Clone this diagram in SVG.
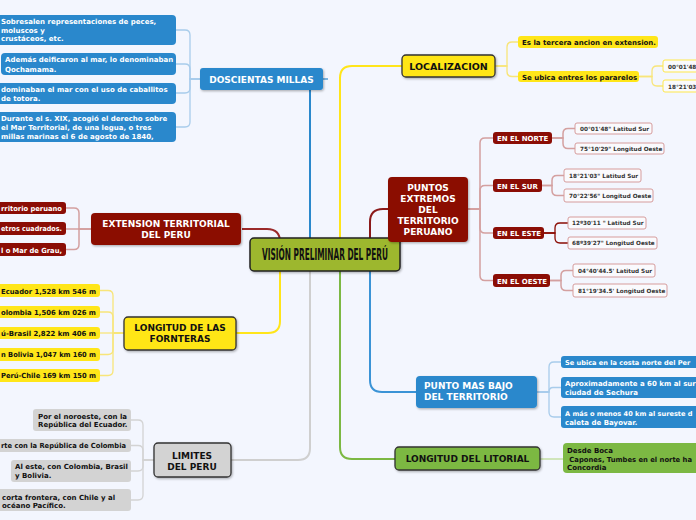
<svg xmlns="http://www.w3.org/2000/svg" width="696" height="520" viewBox="0 0 696 520">
<style>
.t{font-family:"DejaVu Sans",Verdana,sans-serif;font-weight:bold}
.h{font-size:9px}.c{font-size:7px}.g{font-size:5.7px}
.w{fill:#fff}.k{fill:#111}.d{fill:#333}
.m{text-anchor:middle}.e{text-anchor:end}
.blue{fill:#2A88CC}.red{fill:#8B0D05}.yel{fill:#FFE619}.gry{fill:#D3D3D3}.grn{fill:#7CB843}
.bd{stroke:#333;stroke-width:1.3}
.gc{fill:#FAFAFD;stroke:#D69C9C;stroke-width:1}
.gy{fill:#FAFAFD;stroke:#FFE84A;stroke-width:1}
#connectors path{fill:none}
.lb{stroke:#A8CCEB;stroke-width:1.3}.lr{stroke:#D4A0A0;stroke-width:1.5}.lr2{stroke:#8B0D05;stroke-width:1.3}
.ly{stroke:#F8E57A;stroke-width:1.3}.lg{stroke:#D3D3D3;stroke-width:1.3}.lgn{stroke:#C5DFA5;stroke-width:1.5}
</style>
<defs>
<filter id="sh" x="-10%" y="-10%" width="130%" height="140%"><feDropShadow dx="1" dy="1.2" stdDeviation="0.8" flood-color="#000" flood-opacity="0.3"/></filter>
</defs>
<rect width="696" height="520" fill="#F3F6FE"/>
<g id="connectors">
<path d="M310,238 V90" stroke="#2A88CC" stroke-width="2"/>
<path d="M323,79 H328" stroke="#2A88CC" stroke-width="1.2"/>
<path d="M340,238 V78 Q340,66 352,66 H402" stroke="#FFE51A" stroke-width="2"/>
<path d="M370,238 V222 Q370,209 383,209 H388" stroke="#8B1A1A" stroke-width="2"/>
<path d="M370,271 V380 Q370,392 382,392 H416" stroke="#3A93D6" stroke-width="2"/>
<path d="M340,271 V447 Q340,459 352,459 H395" stroke="#7CB843" stroke-width="2"/>
<path d="M310,271 V448 Q310,460 298,460 H231" stroke="#CFCFCF" stroke-width="2"/>
<path d="M280,271 V321 Q280,333 268,333 H236" stroke="#FFE51A" stroke-width="2"/>
<path d="M242,229 H267 Q280,229 280,242" stroke="#9B2A2A" stroke-width="2"/>
<path class="lb" d="M200,79 H190 V35 Q190,30 185,30 H176"/>
<path class="lb" d="M200,79 H190 V69 Q190,64 185,64 H176"/>
<path class="lb" d="M200,79 H190 V88 Q190,93 185,93 H176"/>
<path class="lb" d="M200,79 H190 V122 Q190,127 185,127 H176"/>
<path class="lr" d="M91,229 H79 V213 Q79,208 74,208 H66"/>
<path class="lr" d="M91,229 H66"/>
<path class="lr" d="M91,229 H79 V244.5 Q79,249.5 74,249.5 H66"/>
<path class="ly" d="M124,333 H113 V295.5 Q113,290.5 108,290.5 H100"/>
<path class="ly" d="M124,333 H113 V317 Q113,312 108,312 H100"/>
<path class="ly" d="M124,333 H100"/>
<path class="ly" d="M124,333 H113 V349.5 Q113,354.5 108,354.5 H100"/>
<path class="ly" d="M124,333 H113 V370.5 Q113,375.5 108,375.5 H100"/>
<path class="lg" d="M154,460 H143 V425 Q143,420 138,420 H131"/>
<path class="lg" d="M154,460 H143 V450.5 Q143,445.5 138,445.5 H131"/>
<path class="lg" d="M154,460 H143 V466 Q143,471 138,471 H131"/>
<path class="lg" d="M154,460 H143 V495 Q143,500 138,500 H131"/>
<path class="ly" d="M495,66 H507 V47 Q507,42 512,42 H518"/>
<path class="ly" d="M495,66 H507 V71.5 Q507,76.5 512,76.5 H518"/>
<path class="ly" d="M639,76.5 H652 V71 Q652,66 657,66 H663"/>
<path class="ly" d="M639,76.5 H652 V81 Q652,86 657,86 H663"/>
<path class="lr" d="M468,209 H480 V143 Q480,138 485,138 H493"/>
<path class="lr" d="M468,209 H480 V190.5 Q480,185.5 485,185.5 H493"/>
<path class="lr" d="M468,209 H480 V228 Q480,233 485,233 H493"/>
<path class="lr" d="M468,209 H480 V275.5 Q480,280.5 485,280.5 H493"/>
<path class="lr" d="M552,138 H563 V133.5 Q563,128.5 568,128.5 H575"/>
<path class="lr" d="M552,138 H563 V143.5 Q563,148.5 568,148.5 H575"/>
<path class="lr" d="M542,185.5 H552 V180.5 Q552,175.5 557,175.5 H564"/>
<path class="lr" d="M542,185.5 H552 V190.5 Q552,195.5 557,195.5 H564"/>
<path class="lr2" d="M544,233 H555 V228 Q555,223 560,223 H568"/>
<path class="lr2" d="M544,233 H555 V238 Q555,243 560,243 H568"/>
<path class="lr" d="M550,280.5 H561 V275.5 Q561,270.5 566,270.5 H573"/>
<path class="lr" d="M550,280.5 H561 V285.5 Q561,290.5 566,290.5 H573"/>
<path class="lb" d="M537,392 H549 V367 Q549,362 554,362 H561"/>
<path class="lb" d="M537,392 H549 Q549,387.5 553,387.5 H561"/>
<path class="lb" d="M537,392 H549 V412 Q549,417 554,417 H561"/>
<path class="lgn" d="M540,459 H563"/>
</g>

<g id="center">
<rect x="250" y="238" width="150" height="33" rx="4" fill="#9DB72F" stroke="#222" stroke-width="1.5" filter="url(#sh)"/>
<text x="325" y="260" font-family="'DejaVu Sans Condensed','Liberation Sans Narrow','DejaVu Sans',sans-serif" font-weight="bold" font-size="15" fill="#111" text-anchor="middle" textLength="126" lengthAdjust="spacingAndGlyphs">VISIÓN PRELIMINAR DEL PERÚ</text>
</g>

<g id="doscientas">
<rect x="200" y="68" width="123" height="22" rx="3" class="blue" filter="url(#sh)"/>
<text x="261.5" y="82.5" class="t h w m">DOSCIENTAS MILLAS</text>
</g>
<g id="dos-1"><rect x="-5" y="15" width="181" height="30" rx="4" class="blue"/>
<text class="t c w"><tspan x="1" y="24">Sobresalen representaciones de peces,</tspan><tspan x="1" y="32.5">moluscos y</tspan><tspan x="1" y="41">crustáceos, etc.</tspan></text></g>
<g id="dos-2"><rect x="1" y="53" width="175" height="22" rx="4" class="blue"/>
<text class="t c w"><tspan x="5" y="62">Además deificaron al mar, lo denominaban</tspan><tspan x="5" y="71.5">Qochamama.</tspan></text></g>
<g id="dos-3"><rect x="-5" y="83" width="181" height="21" rx="4" class="blue"/>
<text class="t c w"><tspan x="1" y="92">dominaban el mar con el uso de caballitos</tspan><tspan x="1" y="100.5">de totora.</tspan></text></g>
<g id="dos-4"><rect x="-5" y="112" width="181" height="30" rx="4" class="blue"/>
<text class="t c w"><tspan x="1" y="121">Durante el s. XIX, acogió el derecho sobre</tspan><tspan x="1" y="130">el Mar Territorial, de una legua, o tres</tspan><tspan x="1" y="138.5">millas marinas el 6 de agosto de 1840,</tspan></text></g>

<g id="extension">
<rect x="91" y="213" width="150" height="32" rx="4" class="red" filter="url(#sh)"/>
<text class="t h w m"><tspan x="166" y="227">EXTENSION TERRITORIAL</tspan><tspan x="166" y="237.5">DEL PERU</tspan></text>
</g>
<g id="ext-1"><rect x="-5" y="202" width="71" height="12" rx="3" class="red"/><text x="1" y="210.5" class="t c w" textLength="61" lengthAdjust="spacingAndGlyphs">rritorio peruano</text></g>
<g id="ext-2"><rect x="-5" y="222" width="71" height="13" rx="3" class="red"/><text x="1" y="231" class="t c w" textLength="61" lengthAdjust="spacingAndGlyphs">etros cuadrados.</text></g>
<g id="ext-3"><rect x="-5" y="243" width="71" height="13" rx="3" class="red"/><text x="1" y="252.5" class="t c w" textLength="61" lengthAdjust="spacingAndGlyphs">l o Mar de Grau,</text></g>

<g id="fronteras">
<rect x="124" y="317" width="112" height="33" rx="4" class="yel bd" filter="url(#sh)"/>
<text class="t h k m"><tspan x="180" y="331">LONGITUD DE LAS</tspan><tspan x="180" y="342">FORNTERAS</tspan></text>
</g>
<g id="fr-1"><rect x="-5" y="284" width="105" height="13" rx="3" class="yel"/><text x="1" y="294" class="t c k" textLength="95" lengthAdjust="spacingAndGlyphs">Ecuador 1,528 km 546 m</text></g>
<g id="fr-2"><rect x="-5" y="306" width="105" height="12" rx="3" class="yel"/><text x="1" y="315" class="t c k" textLength="95" lengthAdjust="spacingAndGlyphs">olombia 1,506 km 026 m</text></g>
<g id="fr-3"><rect x="-5" y="327" width="105" height="12" rx="3" class="yel"/><text x="1" y="336" class="t c k" textLength="95" lengthAdjust="spacingAndGlyphs">ú-Brasil 2,822 km 406 m</text></g>
<g id="fr-4"><rect x="-5" y="348" width="105" height="13" rx="3" class="yel"/><text x="1" y="357" class="t c k" textLength="95" lengthAdjust="spacingAndGlyphs">n Bolivia 1,047 km 160 m</text></g>
<g id="fr-5"><rect x="-5" y="369" width="105" height="13" rx="3" class="yel"/><text x="1" y="378" class="t c k" textLength="95" lengthAdjust="spacingAndGlyphs">Perú-Chile 169 km 150 m</text></g>

<g id="limites">
<rect x="154" y="443" width="77" height="34" rx="4" class="gry bd" filter="url(#sh)"/>
<text class="t h k m"><tspan x="192" y="458.5">LIMITES</tspan><tspan x="192" y="469.5">DEL PERU</tspan></text>
</g>
<g id="lim-1"><rect x="33" y="409" width="98" height="22" rx="3" class="gry"/>
<text class="t c k"><tspan x="38" y="418.5">Por el noroeste, con la</tspan><tspan x="38" y="427">República del Ecuador.</tspan></text></g>
<g id="lim-2"><rect x="-5" y="439" width="136" height="13" rx="3" class="gry"/><text x="1" y="448" class="t c k" textLength="125" lengthAdjust="spacingAndGlyphs">rte con la República de Colombia</text></g>
<g id="lim-3"><rect x="11" y="460" width="120" height="22" rx="3" class="gry"/>
<text class="t c k"><tspan x="15" y="469">Al este, con Colombia, Brasil</tspan><tspan x="15" y="477.5">y Bolivia.</tspan></text></g>
<g id="lim-4"><rect x="-5" y="489" width="136" height="22" rx="3" class="gry"/>
<text class="t c k"><tspan x="2" y="499.5">corta frontera, con Chile y al</tspan><tspan x="2" y="508">océano Pacífico.</tspan></text></g>

<g id="localizacion">
<rect x="402" y="55" width="93" height="22" rx="4" class="yel bd" filter="url(#sh)"/>
<text x="448.5" y="69.5" class="t k m" font-size="9.5">LOCALIZACION</text>
</g>
<g id="loc-1"><rect x="518" y="36" width="140" height="12" rx="3" class="yel"/><text x="522" y="45" class="t c k">Es la tercera ancion en extension.</text></g>
<g id="loc-2"><rect x="518" y="71" width="121" height="11" rx="3" class="yel"/><text x="522" y="79.5" class="t c k">Se ubica entres los pararelos</text></g>
<g id="loc-2a"><rect x="663" y="60" width="40" height="12" rx="2" class="gy"/><text x="668" y="68.5" class="t g d">00°01'48</text></g>
<g id="loc-2b"><rect x="663" y="80" width="40" height="12" rx="2" class="gy"/><text x="668" y="88.5" class="t g d">18°21'03</text></g>

<g id="puntos">
<rect x="388" y="177" width="80" height="65" rx="4" class="red" filter="url(#sh)"/>
<text class="t h w m"><tspan x="428" y="191">PUNTOS</tspan><tspan x="428" y="202">EXTREMOS</tspan><tspan x="428" y="213.3">DEL</tspan><tspan x="428" y="224">TERRITORIO</tspan><tspan x="428" y="235">PERUANO</tspan></text>
</g>
<g id="norte"><rect x="493" y="132" width="59" height="12" rx="3" class="red"/><text x="497" y="141" class="t c w">EN EL NORTE</text></g>
<g id="sur"><rect x="493" y="179" width="49" height="13" rx="3" class="red"/><text x="497" y="188.5" class="t c w">EN EL SUR</text></g>
<g id="este"><rect x="493" y="227" width="51" height="12" rx="3" class="red"/><text x="497" y="236" class="t c w">EN EL ESTE</text></g>
<g id="oeste"><rect x="493" y="274" width="57" height="13" rx="3" class="red"/><text x="497" y="283.5" class="t c w">EN EL OESTE</text></g>
<g id="n-1"><rect x="575" y="123" width="77" height="11" rx="2" class="gc"/><text x="580" y="130.7" class="t g d">00°01'48" Latitud Sur</text></g>
<g id="n-2"><rect x="575" y="143" width="89" height="11" rx="2" class="gc"/><text x="580" y="150.7" class="t g d">75°10'29" Longitud Oeste</text></g>
<g id="s-1"><rect x="564" y="169" width="77" height="13" rx="2" class="gc"/><text x="569" y="177.7" class="t g d">18°21'03" Latitud Sur</text></g>
<g id="s-2"><rect x="564" y="189" width="89" height="13" rx="2" class="gc"/><text x="569" y="197.7" class="t g d">70°22'56" Longitud Oeste</text></g>
<g id="e-1"><rect x="568" y="217" width="78" height="12" rx="2" class="gc"/><text x="572" y="225.3" class="t g d">12º30'11 " Latitud Sur</text></g>
<g id="e-2"><rect x="568" y="237" width="89" height="12" rx="2" class="gc"/><text x="572" y="245.3" class="t g d">68º39'27" Longitud Oeste</text></g>
<g id="o-1"><rect x="573" y="264" width="82" height="13" rx="2" class="gc"/><text x="578" y="272.7" class="t g d">04°40'44.5' Latitud Sur</text></g>
<g id="o-2"><rect x="573" y="284" width="94" height="13" rx="2" class="gc"/><text x="578" y="292.7" class="t g d">81°19'34.5' Longitud Oeste</text></g>

<g id="bajo">
<rect x="416" y="376" width="121" height="32" rx="4" class="blue" filter="url(#sh)"/>
<text class="t h w"><tspan x="424" y="389">PUNTO MAS BAJO</tspan><tspan x="424" y="400">DEL TERRITORIO</tspan></text>
</g>
<g id="bajo-1"><rect x="561" y="356" width="140" height="12" rx="3" class="blue"/><text x="565" y="365" class="t w" font-size="6.6">Se ubica en la costa norte del Per</text></g>
<g id="bajo-2"><rect x="561" y="377" width="140" height="21" rx="3" class="blue"/>
<text class="t c w"><tspan x="565" y="386">Aproximadamente a 60 km al sur</tspan><tspan x="565" y="395">ciudad de Sechura</tspan></text></g>
<g id="bajo-3"><rect x="561" y="406" width="140" height="22" rx="3" class="blue"/>
<text class="t w" font-size="6.6"><tspan x="565" y="415.5">A más o menos 40 km al sureste d</tspan><tspan x="565" y="424.5" font-size="7">caleta de Bayovar.</tspan></text></g>

<g id="litorial">
<rect x="395" y="447" width="145" height="23" rx="4" class="grn bd" filter="url(#sh)"/>
<text x="467.5" y="462" class="t h k m">LONGITUD DEL LITORIAL</text>
</g>
<g id="lit-1"><rect x="563" y="443" width="140" height="30" rx="4" class="grn"/>
<text class="t c k"><tspan x="567" y="452.5">Desde Boca</tspan><tspan x="567" y="461.5" textLength="125" lengthAdjust="spacingAndGlyphs"> Capones, Tumbes en el norte ha</tspan><tspan x="567" y="470">Concordia</tspan></text></g>
</svg>
